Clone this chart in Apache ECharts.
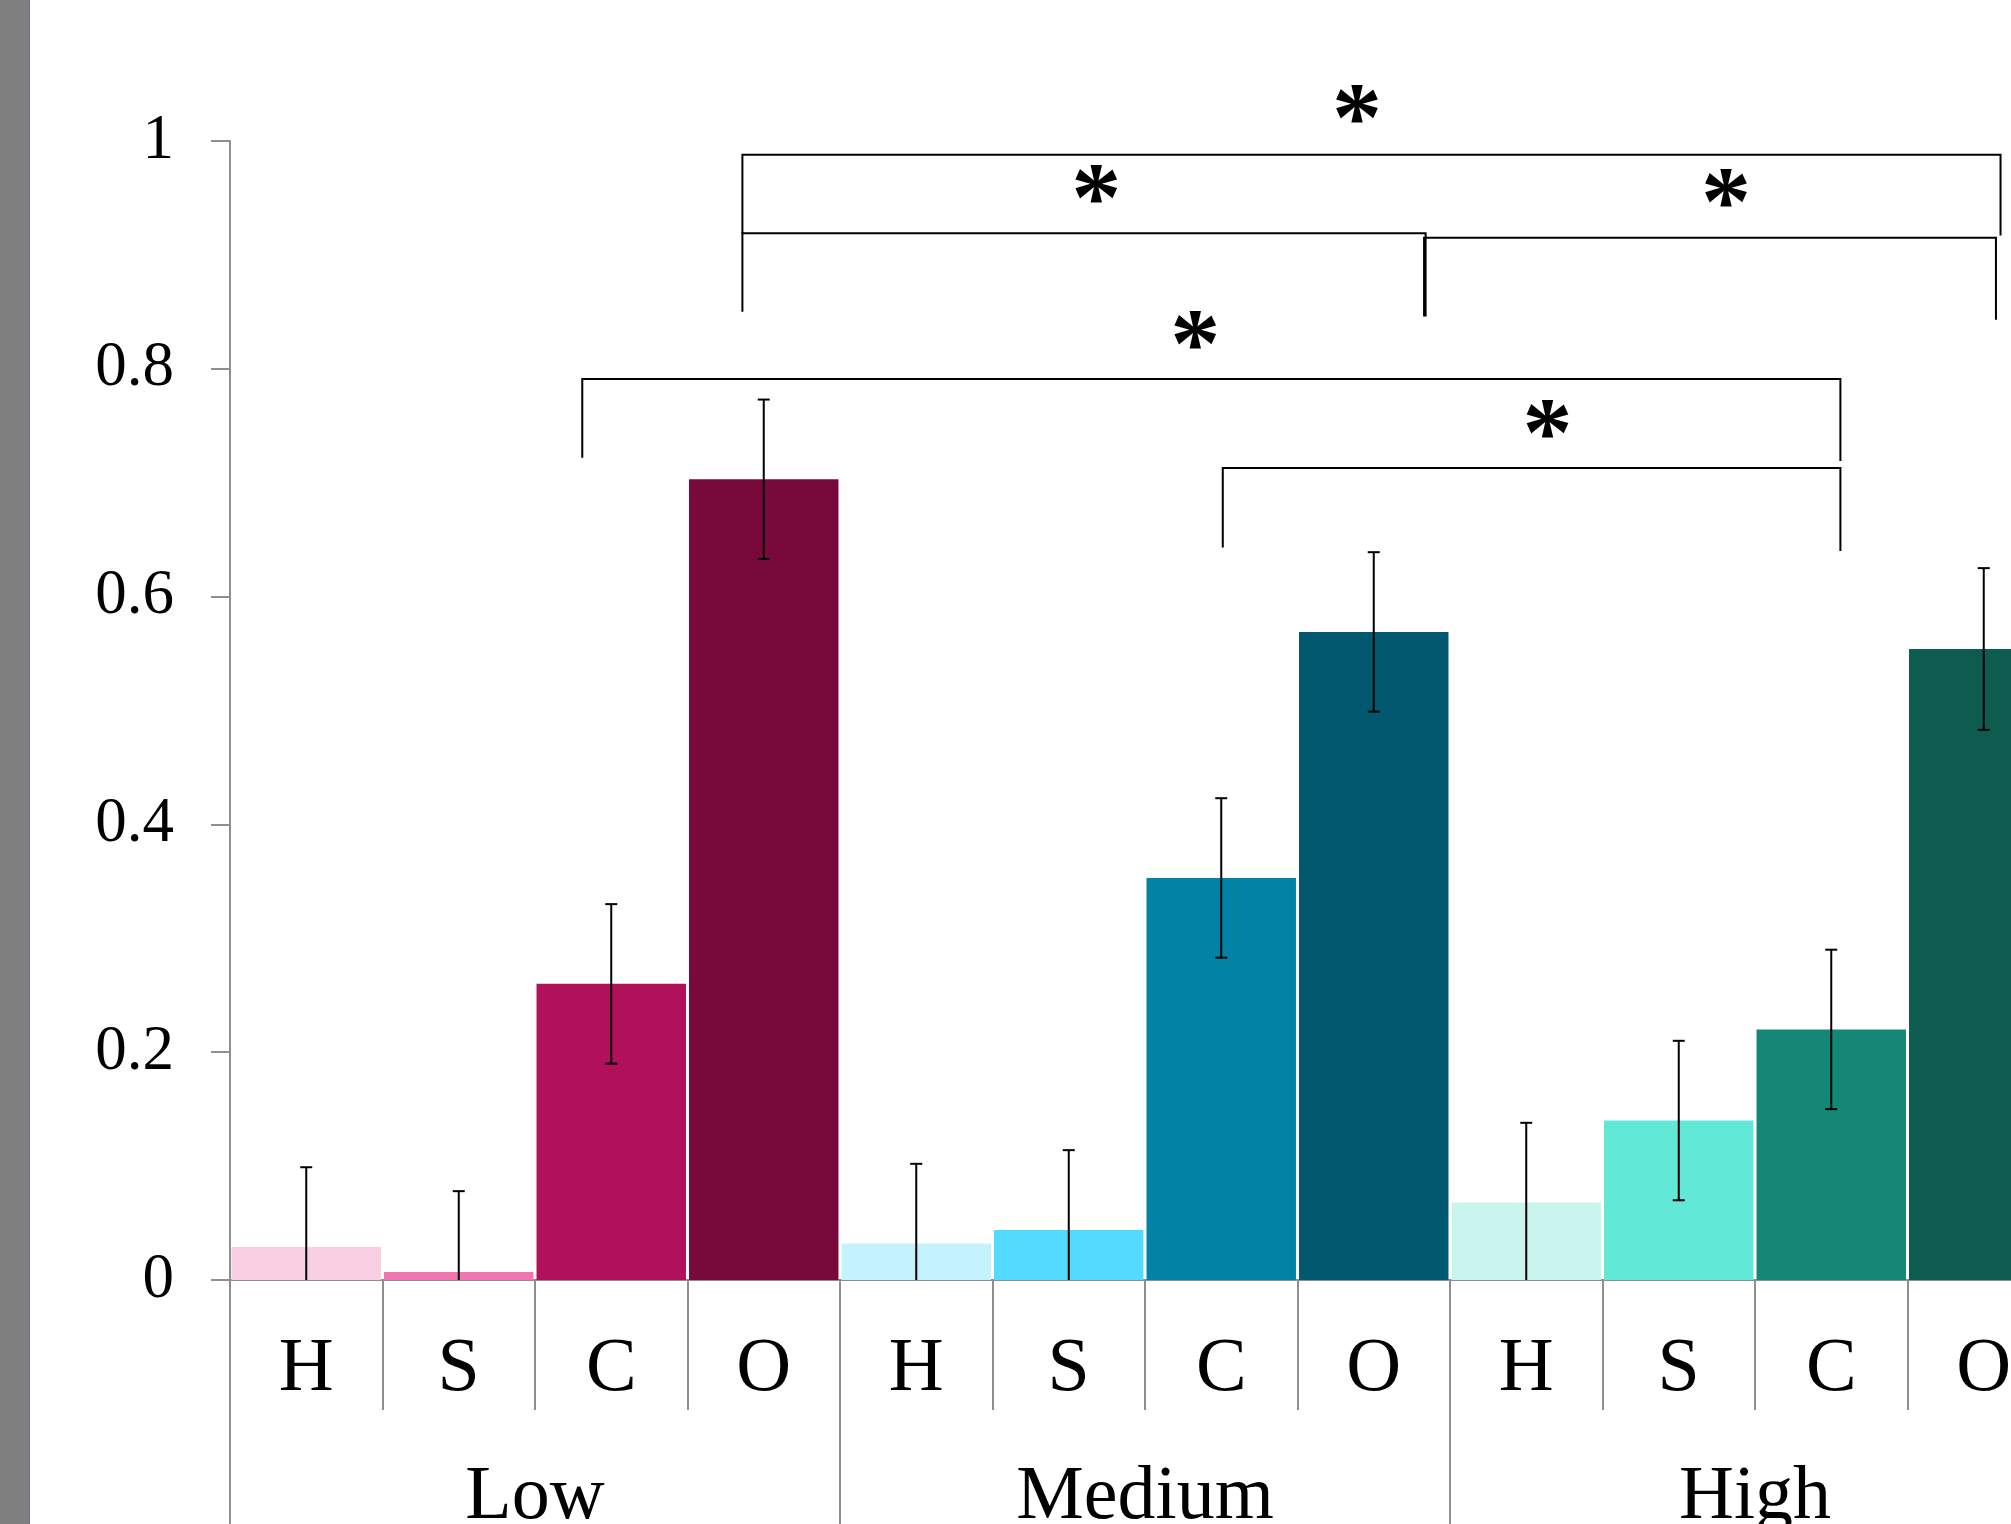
<!DOCTYPE html>
<html>
<head>
<meta charset="utf-8">
<script src="https://cdn.jsdelivr.net/npm/echarts@6/dist/echarts.min.js"></script>
<style>
  html, body { margin: 0; padding: 0; background: #fff; }
  #chart { width: 2011px; height: 1524px; }
</style>
</head>
<body>
<div id="chart"></div>
<script>
// ---- data ----
const groupLabels = ['Low', 'Medium', 'High'];
const levelLabels = ['H', 'S', 'C', 'O', 'H', 'S', 'C', 'O', 'H', 'S', 'C', 'O'];
const meanValues = [0.029, 0.007, 0.260, 0.703, 0.032, 0.044, 0.353, 0.569, 0.068, 0.140, 0.220, 0.554];
const errorValues = [0.070, 0.071, 0.070, 0.070, 0.070, 0.070, 0.070, 0.070, 0.070, 0.070, 0.070, 0.071];
const barColors = ['#F9CFE3', '#F274B1', '#B0115A', '#770A3B',
                   '#C4F2FD', '#52DBFF', '#0283A5', '#02586F',
                   '#CAF5EF', '#61E8D6', '#158776', '#0E5B50'];
// significance brackets (fractional category index, values)
const bracketFrom    = [2.86, 2.86, 7.33, 1.81, 6.01];
const bracketTo      = [11.11, 7.34, 11.08, 10.06, 10.06];
const bracketTop     = [0.988, 0.919, 0.915, 0.791, 0.713];
const bracketLegFrom = [0.919, 0.850, 0.846, 0.722, 0.643];
const bracketLegTo   = [0.917, 0.846, 0.843, 0.719, 0.640];
const starX = [6.89, 5.18, 9.31, 5.83, 8.14];
const starY = [1.032, 0.962, 0.959, 0.834, 0.756];
const starText = '*';

// ---- chart ----
const chart = echarts.init(document.getElementById('chart'), null, { renderer: 'canvas' });
const FONT = "'Liberation Serif', 'Times New Roman', serif";
const GRAY = '#8f8f8f';

const barData = meanValues.map((v, i) => ({ value: v, itemStyle: { color: barColors[i] } }));
const errData = meanValues.map((v, i) => [i, v - errorValues[i], v + errorValues[i]]);
const bracketData = bracketFrom.map((f, i) => [f, bracketTo[i], bracketTop[i], bracketLegFrom[i], bracketLegTo[i]]);
const starData = starX.map((x, i) => [x, starY[i]]);

function fracX(api, f, y) {
  const p0 = api.coord([0, y]);
  const band = api.size([1, 0])[0];
  return [p0[0] + f * band, p0[1]];
}

chart.setOption({
  animation: false,
  backgroundColor: '#ffffff',
  graphic: [
    { type: 'rect', left: 0, top: 0, shape: { width: 29, height: 1524 }, style: { fill: '#7f7f7f' }, silent: true },
    { type: 'rect', left: 29, top: 0, shape: { width: 1, height: 1524 }, style: { fill: '#62708a' }, silent: true }
  ],
  grid: { left: 230, top: 141, width: 1830, height: 1139, containLabel: false, outerBoundsMode: 'none' },
  xAxis: [
    {
      type: 'category',
      data: levelLabels,
      position: 'bottom',
      axisLine: { show: true, lineStyle: { color: GRAY, width: 2 } },
      axisTick: { show: true, interval: 0, length: 130, lineStyle: { color: GRAY, width: 2 } },
      axisLabel: { interval: 0, margin: 52, fontFamily: FONT, fontSize: 76, color: '#000' },
      splitLine: { show: false }
    },
    {
      type: 'category',
      data: groupLabels,
      position: 'bottom',
      axisLine: { show: false },
      axisTick: { show: true, interval: 0, length: 300, lineStyle: { color: GRAY, width: 2 } },
      axisLabel: { interval: 0, margin: 180, fontFamily: FONT, fontSize: 76, color: '#000' },
      splitLine: { show: false }
    }
  ],
  yAxis: {
    type: 'value',
    min: 0, max: 1, interval: 0.2,
    axisLine: { show: true, lineStyle: { color: GRAY, width: 2 } },
    axisTick: { show: true, length: 19, lineStyle: { color: GRAY, width: 2 } },
    axisLabel: { margin: 56, fontFamily: FONT, fontSize: 63, color: '#000' },
    splitLine: { show: false }
  },
  series: [
    {
      type: 'bar',
      xAxisIndex: 0,
      data: barData,
      barCategoryGap: '2%',
      z: 2
    },
    {
      type: 'custom',
      xAxisIndex: 0,
      data: errData,
      encode: { x: 0, y: [1, 2] },
      z: 3,
      renderItem: function (params, api) {
        const i = api.value(0);
        const lo = api.value(1);
        const hi = api.value(2);
        const pHi = api.coord([i, hi]);
        const pLo = api.coord([i, Math.max(0, lo)]);
        const cap = 6;
        const st = { stroke: '#000', lineWidth: 2 };
        const children = [
          { type: 'line', shape: { x1: pHi[0], y1: pHi[1], x2: pLo[0], y2: pLo[1] }, style: st },
          { type: 'line', shape: { x1: pHi[0] - cap, y1: pHi[1], x2: pHi[0] + cap, y2: pHi[1] }, style: st }
        ];
        if (lo >= 0) {
          children.push({ type: 'line', shape: { x1: pLo[0] - cap, y1: pLo[1], x2: pLo[0] + cap, y2: pLo[1] }, style: st });
        }
        return { type: 'group', children: children };
      }
    },
    {
      type: 'custom',
      xAxisIndex: 0,
      data: bracketData,
      encode: { x: [0, 1], y: [2, 3, 4] },
      clip: false,
      z: 4,
      renderItem: function (params, api) {
        const f1 = api.value(0), f2 = api.value(1);
        const top = api.value(2), l1 = api.value(3), l2 = api.value(4);
        const a = fracX(api, f1, l1);
        const b = fracX(api, f1, top);
        const c = fracX(api, f2, top);
        const d = fracX(api, f2, l2);
        return {
          type: 'polyline',
          shape: { points: [a, b, c, d] },
          style: { stroke: '#000', lineWidth: 2, fill: null }
        };
      }
    },
    {
      type: 'custom',
      xAxisIndex: 0,
      data: starData,
      encode: { x: 0, y: 1 },
      clip: false,
      z: 5,
      renderItem: function (params, api) {
        const p = fracX(api, api.value(0), api.value(1));
        return {
          type: 'text',
          x: p[0], y: p[1] + 20,
          style: {
            text: starText,
            fontFamily: FONT,
            fontWeight: 'bold',
            fontSize: 100,
            fill: '#000',
            align: 'center',
            verticalAlign: 'middle'
          }
        };
      }
    }
  ]
});
</script>
</body>
</html>
